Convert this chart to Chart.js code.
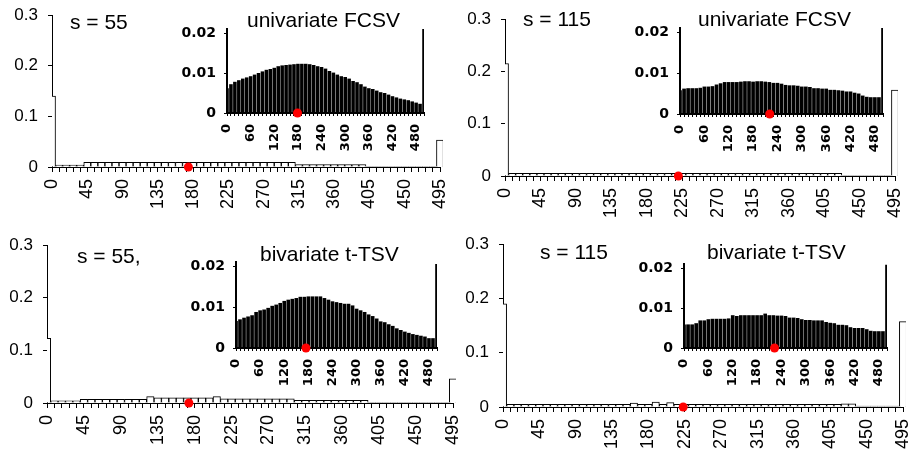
<!DOCTYPE html>
<html>
<head>
<meta charset="utf-8">
<script src="https://cdn.jsdelivr.net/npm/chart.js@4.4.1/dist/chart.umd.min.js"></script>
<style>
  html, body { margin: 0; padding: 0; background: #fff; }
  #wrap { position: relative; width: 912px; height: 455px; overflow: hidden; }
  #wrap canvas { position: absolute; left: 0; top: 0; }
</style>
</head>
<body>
<div id="wrap">
  <canvas id="mainTL" width="912" height="455"></canvas>
  <canvas id="mainTR" width="912" height="455"></canvas>
  <canvas id="mainBL" width="912" height="455"></canvas>
  <canvas id="mainBR" width="912" height="455"></canvas>
  <canvas id="insetTL" width="912" height="455"></canvas>
  <canvas id="insetTR" width="912" height="455"></canvas>
  <canvas id="insetBL" width="912" height="455"></canvas>
  <canvas id="insetBR" width="912" height="455"></canvas>
</div>
<script>
// ---------------- data ----------------
const mainBins = ['0','9','18','27','36','45','54','63','72','81','90','99','108','117','126','135',
  '144','153','162','171','180','189','198','207','216','225','234','243','252','261','270','279',
  '288','297','306','315','324','333','342','351','360','369','378','387','396','405','414','423',
  '432','441','450','459','468','477','486','495'];
const mainXLabels = ['0','45','90','135','180','225','270','315','360','405','450','495'];
const mainYTicks = [0, 0.1, 0.2, 0.3];

const insetBins = ['0','10','20','30','40','50','60','70','80','90','100','110','120','130','140',
  '150','160','170','180','190','200','210','220','230','240','250','260','270','280','290','300',
  '310','320','330','340','350','360','370','380','390','400','410','420','430','440','450','460',
  '470','480','490','500'];
const insetXLabels = ['0','60','120','180','240','300','360','420','480'];
const insetYTicks = [0, 0.01, 0.02];

// main histograms (s = 55 / s = 115)
const uniMain55 = [
  0.14, 0.004, 0.004, 0.004, 0.004,
  0.009, 0.009, 0.009, 0.009, 0.009, 0.009, 0.009, 0.009, 0.009, 0.009,
  0.009, 0.009, 0.009, 0.009, 0.009, 0.009, 0.009, 0.009, 0.009, 0.009,
  0.009, 0.009, 0.009, 0.009, 0.009, 0.009, 0.009, 0.009, 0.009, 0.009,
  0.005, 0.005, 0.005, 0.005, 0.005, 0.005, 0.005, 0.005, 0.005, 0.005,
  0.0015, 0.0015, 0.0015, 0.0015, 0.0015, 0.0015, 0.0015, 0.0015, 0.0015, 0.0015,
  0.053];
const uniMain115 = [
  0.215,
  0.005, 0.005, 0.005, 0.005, 0.005, 0.005, 0.005, 0.005, 0.005, 0.005,
  0.005, 0.005, 0.005, 0.005, 0.005, 0.005, 0.005, 0.005, 0.005, 0.005,
  0.005, 0.005, 0.005, 0.005, 0.005, 0.005, 0.005, 0.005, 0.005, 0.005,
  0.005, 0.005, 0.005, 0.005, 0.005, 0.005, 0.005, 0.005, 0.005, 0.005,
  0.005, 0.005, 0.005, 0.005, 0.005, 0.005, 0.005,
  0.0015, 0.0015, 0.0015, 0.0015, 0.0015, 0.0015, 0.0015,
  0.164];
const biMain55 = [
  0.123, 0.004, 0.004, 0.004, 0.004,
  0.007, 0.007, 0.007, 0.007, 0.007, 0.007, 0.007, 0.007, 0.007,
  0.012, 0.010, 0.010, 0.010, 0.010, 0.010, 0.010, 0.010, 0.010, 0.012,
  0.008, 0.008, 0.008, 0.008, 0.008, 0.008, 0.008, 0.008, 0.008, 0.008,
  0.005, 0.005, 0.005, 0.005, 0.005, 0.005, 0.005, 0.005, 0.005, 0.005,
  0.0015, 0.0015, 0.0015, 0.0015, 0.0015, 0.0015, 0.0015, 0.0015, 0.0015, 0.0015, 0.0015,
  0.046];
const biMain115 = [
  0.19,
  0.005, 0.005, 0.005, 0.005, 0.005, 0.005, 0.005, 0.005, 0.005, 0.005,
  0.005, 0.005, 0.005, 0.005, 0.005, 0.005, 0.005,
  0.007, 0.005, 0.005, 0.009, 0.005, 0.008,
  0.005, 0.005, 0.005, 0.005, 0.005, 0.005, 0.005, 0.005, 0.005, 0.005,
  0.005, 0.005, 0.005, 0.005, 0.005, 0.005, 0.005, 0.005, 0.005, 0.005,
  0.005, 0.005, 0.005,
  0.006, 0.006,
  0.0015, 0.0015, 0.0015, 0.0015, 0.0015, 0.0015,
  0.157];

// zoomed insets
const uniInset55 = [
  0.0062, 0.0072, 0.0078, 0.0082, 0.0086, 0.0089, 0.0092, 0.0096, 0.0100, 0.0104,
  0.0108, 0.0110, 0.0113, 0.0117, 0.0119, 0.0120, 0.0121, 0.0122, 0.0123, 0.0123,
  0.0123, 0.0122, 0.0120, 0.0117, 0.0115, 0.0111, 0.0105, 0.0101, 0.0096, 0.0092,
  0.0090, 0.0086, 0.0080, 0.0077, 0.0072, 0.0066, 0.0062, 0.0060, 0.0056, 0.0052,
  0.0050, 0.0046, 0.0042, 0.0039, 0.0036, 0.0034, 0.0032, 0.0029, 0.0026, 0.0023,
  0.021];
const uniInset115 = [
  0.0058, 0.0062, 0.0063, 0.0063, 0.0063, 0.0064, 0.0067, 0.0067, 0.0068, 0.0072,
  0.0075, 0.0078, 0.0078, 0.0078, 0.0078, 0.0079, 0.0080, 0.0080, 0.0079, 0.0080,
  0.0080, 0.0079, 0.0078, 0.0076, 0.0076, 0.0074, 0.0071, 0.0070, 0.0070, 0.0069,
  0.0067, 0.0067, 0.0066, 0.0063, 0.0063, 0.0062, 0.0062, 0.0059, 0.0059, 0.0058,
  0.0057, 0.0055, 0.0055, 0.0052, 0.0050, 0.0045, 0.0042, 0.0041, 0.0041, 0.0041,
  0.021];
const biInset55 = [
  0.0066, 0.0070, 0.0074, 0.0077, 0.0080, 0.0088, 0.0092, 0.0094, 0.0098, 0.0103,
  0.0106, 0.0110, 0.0115, 0.0118, 0.0120, 0.0122, 0.0125, 0.0125, 0.0126, 0.0126,
  0.0126, 0.0126, 0.0122, 0.0118, 0.0114, 0.0112, 0.0110, 0.0108, 0.0108, 0.0104,
  0.0096, 0.0092, 0.0088, 0.0082, 0.0078, 0.0072, 0.0065, 0.0063, 0.0058, 0.0054,
  0.0048, 0.0044, 0.0040, 0.0037, 0.0034, 0.0032, 0.0030, 0.0028, 0.0024, 0.0024,
  0.0205];
const biInset115 = [
  0.0059, 0.0059, 0.0059, 0.0062, 0.0069, 0.0069, 0.0072, 0.0073, 0.0073, 0.0073,
  0.0073, 0.0074, 0.0082, 0.0080, 0.0082, 0.0082, 0.0082, 0.0082, 0.0082, 0.0082,
  0.0086, 0.0082, 0.0082, 0.0081, 0.0081, 0.0080, 0.0076, 0.0076, 0.0075, 0.0072,
  0.0070, 0.0070, 0.0069, 0.0069, 0.0069, 0.0065, 0.0063, 0.0062, 0.0058, 0.0058,
  0.0057, 0.0052, 0.0050, 0.0050, 0.0050, 0.0047, 0.0043, 0.0042, 0.0042, 0.0042,
  0.0208];

// red markers (TL, TR, BL, BR)
const mainDots = [174, 220, 173, 223];
const insetDots = [179, 221, 174, 223];

// ---------------- helpers ----------------
const W = 912, H = 455;
const mainFont = 'Liberation Sans, Arial, sans-serif';
const insetFont = 'DejaVu Sans, Verdana, sans-serif';

// draws the panel captions ("s = 55", "univariate FCSV" ...)
const panelTitles = {
  id: 'panelTitles',
  afterDraw(chart, args, opts) {
    if (!opts.items) return;
    const ctx = chart.ctx;
    ctx.save();
    ctx.fillStyle = '#000';
    ctx.font = '21px ' + mainFont;
    ctx.textBaseline = 'middle';
    ctx.textAlign = 'left';
    opts.items.forEach(t => ctx.fillText(t.text, t.x, t.y));
    ctx.restore();
  }
};

function fmt(v) { return String(+v.toFixed(3)); }

function makeChart(id, cfg) {
  const yW = cfg.yW, xH = cfg.xH, box = cfg.box;
  return new Chart(document.getElementById(id), {
    type: 'bar',
    data: {
      labels: cfg.bins,
      datasets: [
        {
          type: 'scatter',
          data: [{ x: cfg.dot, y: 0 }],
          xAxisID: 'xd',
          backgroundColor: '#ff0000',
          borderWidth: 0,
          pointRadius: 4.5,
          clip: false,
          order: 0
        },
        {
          data: cfg.values,
          grouped: false,
          backgroundColor: cfg.barFill,
          borderColor: '#000',
          borderWidth: cfg.barBorder,
          barPercentage: cfg.barPct,
          categoryPercentage: 1,
          clip: { left: 0, top: 0, right: cfg.clipRight, bottom: 0 },
          order: 1
        }
      ]
    },
    options: {
      responsive: false,
      animation: false,
      events: [],
      layout: { padding: { left: box.left - yW, top: box.top, right: W - box.right, bottom: H - box.bottom - xH } },
      plugins: {
        legend: { display: false },
        tooltip: { enabled: false },
        panelTitles: { items: cfg.titles }
      },
      scales: {
        x: {
          type: 'category',
          offset: false,
          afterFit: s => { s.height = xH; s.paddingLeft = 0; s.paddingRight = 0; },
          grid: { display: true, offset: false, drawOnChartArea: false, tickLength: cfg.xTick, color: '#000' },
          border: { display: true, color: '#000', width: cfg.axisW },
          ticks: {
            autoSkip: false, minRotation: 90, maxRotation: 90, padding: cfg.xPad, color: '#000',
            font: cfg.xFont,
            callback: function(v) {
              const lab = this.getLabelForValue(v);
              return cfg.xLabels.includes(lab) ? lab : '';
            }
          }
        },
        xd: { type: 'linear', display: false, offset: false, min: 0, max: cfg.dotMax },
        y: {
          min: 0, max: cfg.yMax,
          afterFit: s => { s.width = yW; s.paddingTop = 0; s.paddingBottom = 0; },
          afterBuildTicks: s => { s.ticks = cfg.yTicks.map(v => ({ value: v })); },
          grid: { display: true, drawOnChartArea: false, tickLength: cfg.yTick, color: '#000' },
          border: { display: true, color: '#000', width: cfg.axisW },
          ticks: { padding: cfg.yPad, color: '#000', font: cfg.yFont, callback: v => fmt(v) }
        }
      }
    },
    plugins: [panelTitles]
  });
}

function makeMain(id, values, dot, box, titles) {
  return makeChart(id, {
    bins: mainBins, xLabels: mainXLabels, yTicks: mainYTicks, values, dot, box, titles,
    yW: 50, xH: 44, yMax: 0.3, dotMax: 495,
    barFill: '#fff', barBorder: 1, barPct: 1, clipRight: 3, axisW: 1,
    xTick: 5, xPad: 7, yTick: 4, yPad: 10,
    xFont: { family: mainFont, size: 18 }, yFont: { family: mainFont, size: 17 }
  });
}

function makeInset(id, values, dot, box) {
  return makeChart(id, {
    bins: insetBins, xLabels: insetXLabels, yTicks: insetYTicks, values, dot, box, titles: null,
    yW: 50, xH: 40, yMax: 0.021, dotMax: 500,
    barFill: '#000', barBorder: 0, barPct: 0.9, clipRight: 0, axisW: 2,
    xTick: 3, xPad: 8, yTick: 3, yPad: 8,
    xFont: { family: insetFont, size: 13, weight: 'bold' }, yFont: { family: insetFont, size: 14, weight: 'bold' }
  });
}

// ---------------- panels ----------------
makeMain('mainTL', uniMain55, mainDots[0], { left: 52, top: 15, right: 440, bottom: 167 },
  [{ text: 's = 55', x: 70, y: 23 }, { text: 'univariate FCSV', x: 247, y: 21 }]);
makeMain('mainTR', uniMain115, mainDots[1], { left: 505, top: 19, right: 895, bottom: 176 },
  [{ text: 's = 115', x: 523, y: 20 }, { text: 'univariate FCSV', x: 698, y: 20 }]);
makeMain('mainBL', biMain55, mainDots[2], { left: 47, top: 245, right: 453, bottom: 403 },
  [{ text: 's = 55,', x: 77, y: 257 }, { text: 'bivariate t-TSV', x: 260, y: 255 }]);
makeMain('mainBR', biMain115, mainDots[3], { left: 503, top: 244, right: 903, bottom: 407 },
  [{ text: 's = 115', x: 540, y: 253 }, { text: 'bivariate t-TSV', x: 707, y: 253 }]);

makeInset('insetTL', uniInset55, insetDots[0], { left: 227, top: 29, right: 424, bottom: 113 });
makeInset('insetTR', uniInset115, insetDots[1], { left: 680, top: 28, right: 883, bottom: 114 });
makeInset('insetBL', biInset55, insetDots[2], { left: 236, top: 262, right: 437, bottom: 348 });
makeInset('insetBR', biInset115, insetDots[3], { left: 684, top: 264, right: 887, bottom: 348 });
</script>
</body>
</html>
